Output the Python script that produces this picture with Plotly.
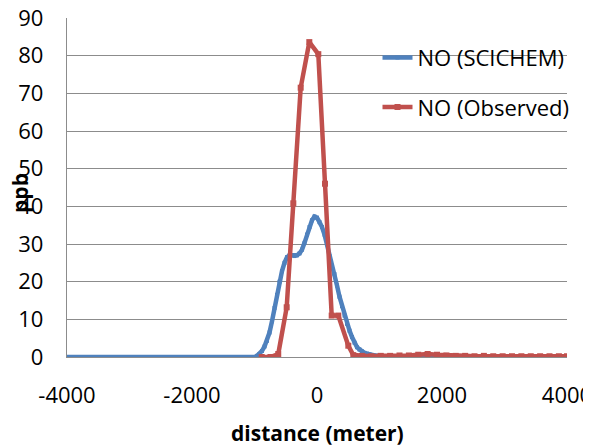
import plotly.graph_objects as go

# ---- data ----
# SCICHEM model: sampled every 40 m from -4000 to 4000
sci_step = 40
sci_start = -4000
sci_left_zeros = 76          # -4000 .. -1000 all zero
sci_core = [0.3, 0.8, 1.6, 2.8, 4.3, 6.5, 9.5, 13.0, 16.5, 20.0,
            22.8, 25.0, 26.5, 27.0, 27.0, 26.8, 27.0, 27.5, 28.5, 30.3,
            32.5, 34.5, 36.3, 37.3, 37.0, 35.8, 34.5, 32.5, 30.0, 26.8,
            24.2, 22.0, 19.0, 16.0, 13.5, 11.0, 8.8, 7.0, 5.3, 3.8,
            2.6, 2.0, 1.5, 1.1, 0.9, 0.7, 0.5, 0.4, 0.3, 0.3,
            0.2, 0.2, 0.2, 0.1, 0.1, 0.1, 0.1, 0.1]
sci_right_zeros = 201 - sci_left_zeros - len(sci_core)
sci_values = [0.0] * sci_left_zeros + sci_core + [0.0] * sci_right_zeros
sci_x = [sci_start + i * sci_step for i in range(len(sci_values))]

# Observed
obs_x = [-885, -745, -620, -485, -379, -261, -123, 21, 128, 235, 341, 501, 581,
         720, 870, 1020, 1170, 1320, 1470, 1620, 1770, 1920, 2070, 2220, 2370,
         2520, 2670, 2820, 2970, 3120, 3270, 3420, 3570, 3720, 3870, 4000]
obs_values = [0.0, 0.0, 0.8, 13.2, 40.8, 71.5, 83.6, 80.4, 46.0, 11.0, 11.0, 3.0, 0.5,
              0.3, 0.2, 0.3, 0.3, 0.4, 0.4, 0.6, 0.8, 0.6, 0.4, 0.3, 0.3,
              0.2, 0.3, 0.2, 0.2, 0.2, 0.2, 0.2, 0.2, 0.2, 0.2, 0.2]

x_ticks = [-4000, -2000, 0, 2000, 4000]
x_tick_labels = ["-4000", "-2000", "0", "2000", "4000"]
y_ticks = [0, 10, 20, 30, 40, 50, 60, 70, 80, 90]

BLUE = "#4F81BD"
RED = "#C0504D"
GRID = "#8C8C8C"
FONT = "Open Sans"

fig = go.Figure()
fig.add_trace(go.Scatter(
    x=sci_x, y=sci_values, name="NO (SCICHEM)", mode="lines+markers",
    line=dict(color=BLUE, width=4.5), marker=dict(color=BLUE, size=4, symbol="square"),
    legendgroup="a"))
fig.add_trace(go.Scatter(
    x=obs_x, y=obs_values, name="NO (Observed)", mode="lines+markers",
    line=dict(color=RED, width=4.5), marker=dict(color=RED, size=6, symbol="square"),
    legendgroup="b"))

# the page body has an 8px default margin, so the figure is sized/margined to compensate
fig.update_layout(
    width=583, height=440,
    margin=dict(l=59, r=24, t=10, b=91),
    paper_bgcolor="white", plot_bgcolor="white",
    font=dict(family=FONT, size=22, color="black"),
    showlegend=True,
    legend=dict(x=0.621, y=0.945, xanchor="left", yanchor="top",
                bgcolor="rgba(0,0,0,0)", tracegroupgap=18,
                font=dict(family=FONT, size=22, color="black")),
    xaxis=dict(range=[-4000, 4000], tickvals=x_ticks, ticktext=x_tick_labels,
               showgrid=False, zeroline=False, showline=True,
               linecolor=GRID, linewidth=1.3, ticks="",
               ticklabelstandoff=18, automargin=False,
               ticklabeloverflow="allow"),
    yaxis=dict(range=[0, 90], tickvals=y_ticks, showgrid=True,
               gridcolor=GRID, gridwidth=1.3, zeroline=False,
               showline=True, linecolor=GRID, linewidth=1.3, ticks="",
               ticklabelstandoff=18, automargin=False,
               ticklabeloverflow="allow"),
    annotations=[
        dict(text="<b>distance (meter)</b>", x=0.5, y=-0.224, xref="paper", yref="paper",
             xanchor="center", yanchor="middle", showarrow=False,
             font=dict(family=FONT, size=21, color="black")),
        dict(text="<b>ppb</b>", x=-0.094, y=0.484, xref="paper", yref="paper",
             xanchor="center", yanchor="middle", showarrow=False, textangle=-90,
             font=dict(family=FONT, size=21, color="black")),
    ],
)

fig.write_html("out.html")
